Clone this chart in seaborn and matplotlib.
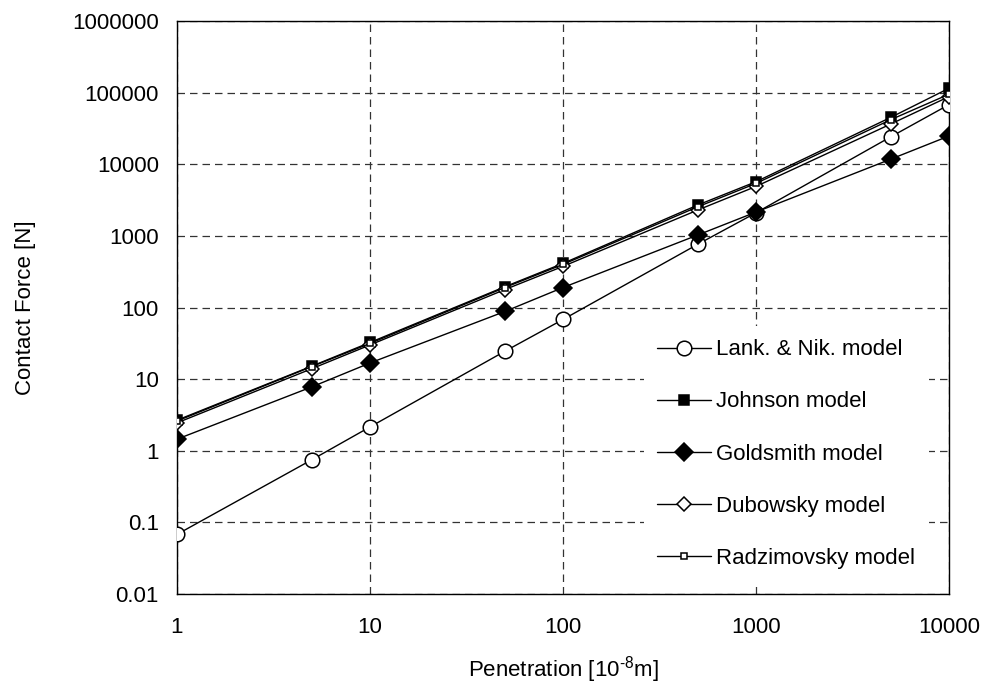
import matplotlib
matplotlib.use("Agg")
import matplotlib.pyplot as plt
import matplotlib.ticker as mticker
import seaborn as sns
import pandas as pd

# ---- data ----
penetration = [1, 5, 10, 50, 100, 500, 1000, 5000, 10000]
lank_nik    = [0.068, 0.75, 2.15, 24.5, 68, 765, 2100, 24200, 68000]
johnson     = [2.67, 15.2, 32.5, 195, 413, 2700, 5700, 45200, 115000]
goldsmith   = [1.45, 7.8, 16.8, 88, 190, 1030, 2150, 11800, 24800]
dubowsky    = [2.45, 14.0, 30.0, 178, 375, 2300, 4900, 36500, 88000]
radzimovsky = [2.6, 15.0, 31.5, 190, 400, 2550, 5400, 42000, 95000]

series_names = ["Lank. & Nik. model", "Johnson model", "Goldsmith model",
                "Dubowsky model", "Radzimovsky model"]
series_vals = [lank_nik, johnson, goldsmith, dubowsky, radzimovsky]

x_ticks = [1, 10, 100, 1000, 10000]
y_ticks = [0.01, 0.1, 1, 10, 100, 1000, 10000, 100000, 1000000]

rows = []
for name, vals in zip(series_names, series_vals):
    for xv, yv in zip(penetration, vals):
        rows.append({"model": name, "x": xv, "y": yv})
df = pd.DataFrame(rows)

# ---- styling ----
sns.set_style("white")
plt.rcParams["font.family"] = ["Liberation Sans", "DejaVu Sans"]
plt.rcParams["mathtext.fontset"] = "custom"
plt.rcParams["mathtext.rm"] = "Liberation Sans"
plt.rcParams["font.size"] = 16
plt.rcParams["text.color"] = "black"
plt.rcParams["axes.labelcolor"] = "black"
plt.rcParams["xtick.labelcolor"] = "black"
plt.rcParams["ytick.labelcolor"] = "black"

styles = {
    "Lank. & Nik. model": dict(marker="o", ms=10.5, mfc="white"),
    "Johnson model": dict(marker="s", ms=7.5, mfc="black"),
    "Goldsmith model": dict(marker="D", ms=9.5, mfc="black"),
    "Dubowsky model": dict(marker="D", ms=7.0, mfc="white"),
    "Radzimovsky model": dict(marker="s", ms=5.0, mfc="white"),
}

fig = plt.figure(figsize=(9.85, 6.85), dpi=100)
W, H = 985, 685
ax = fig.add_axes([177 / W, 1 - 594 / H, (949 - 177) / W, (594 - 21) / H])

for name in series_names:
    sub = df[df["model"] == name]
    st = styles[name]
    sns.lineplot(data=sub, x="x", y="y", ax=ax, color="black", lw=1.0,
                 marker=st["marker"], markersize=st["ms"],
                 markerfacecolor=st["mfc"], markeredgecolor="black",
                 markeredgewidth=1.1, label=name, sort=False,
                 estimator=None, zorder=3)

ax.set_xscale("log")
ax.set_yscale("log")
ax.set_xlim(1, 10000)
ax.set_ylim(0.01, 1000000)
ax.set_xticks(x_ticks)
ax.set_yticks(y_ticks)
fmt = mticker.FuncFormatter(lambda v, _: f"{v:.10g}")
ax.xaxis.set_major_formatter(fmt)
ax.yaxis.set_major_formatter(fmt)
ax.xaxis.set_minor_locator(mticker.NullLocator())
ax.yaxis.set_minor_locator(mticker.NullLocator())

ax.grid(True, which="major", color="#333333", linestyle=(0, (6, 4)), lw=0.9)
ax.set_axisbelow(True)
for sp in ax.spines.values():
    sp.set_visible(True)
    sp.set_color("black")
    sp.set_linewidth(1.0)

ax.tick_params(axis="x", direction="inout", length=9, width=0.8,
               color="#444444", pad=12, labelsize=16)
ax.tick_params(axis="y", direction="out", length=5, width=0.8,
               color="#444444", pad=8, labelsize=16)

ax.set_xlabel("Penetration [10$^{\\mathregular{\u20108}}$m]", fontsize=16, labelpad=12)
ax.set_ylabel("Contact Force [N]", fontsize=16, labelpad=26)

leg = ax.legend(loc="upper left", bbox_to_anchor=(644 / W, 1 - 326 / H),
                bbox_transform=fig.transFigure, frameon=True,
                facecolor="white", edgecolor="none", framealpha=1.0,
                fancybox=False, borderpad=0.6,
                handlelength=2.4, handletextpad=0.25, labelspacing=1.4,
                fontsize=16, borderaxespad=0)
leg.set_zorder(5)
for t in leg.get_texts():
    t.set_color("black")

fig.savefig("out.png", dpi=100, facecolor="white")
